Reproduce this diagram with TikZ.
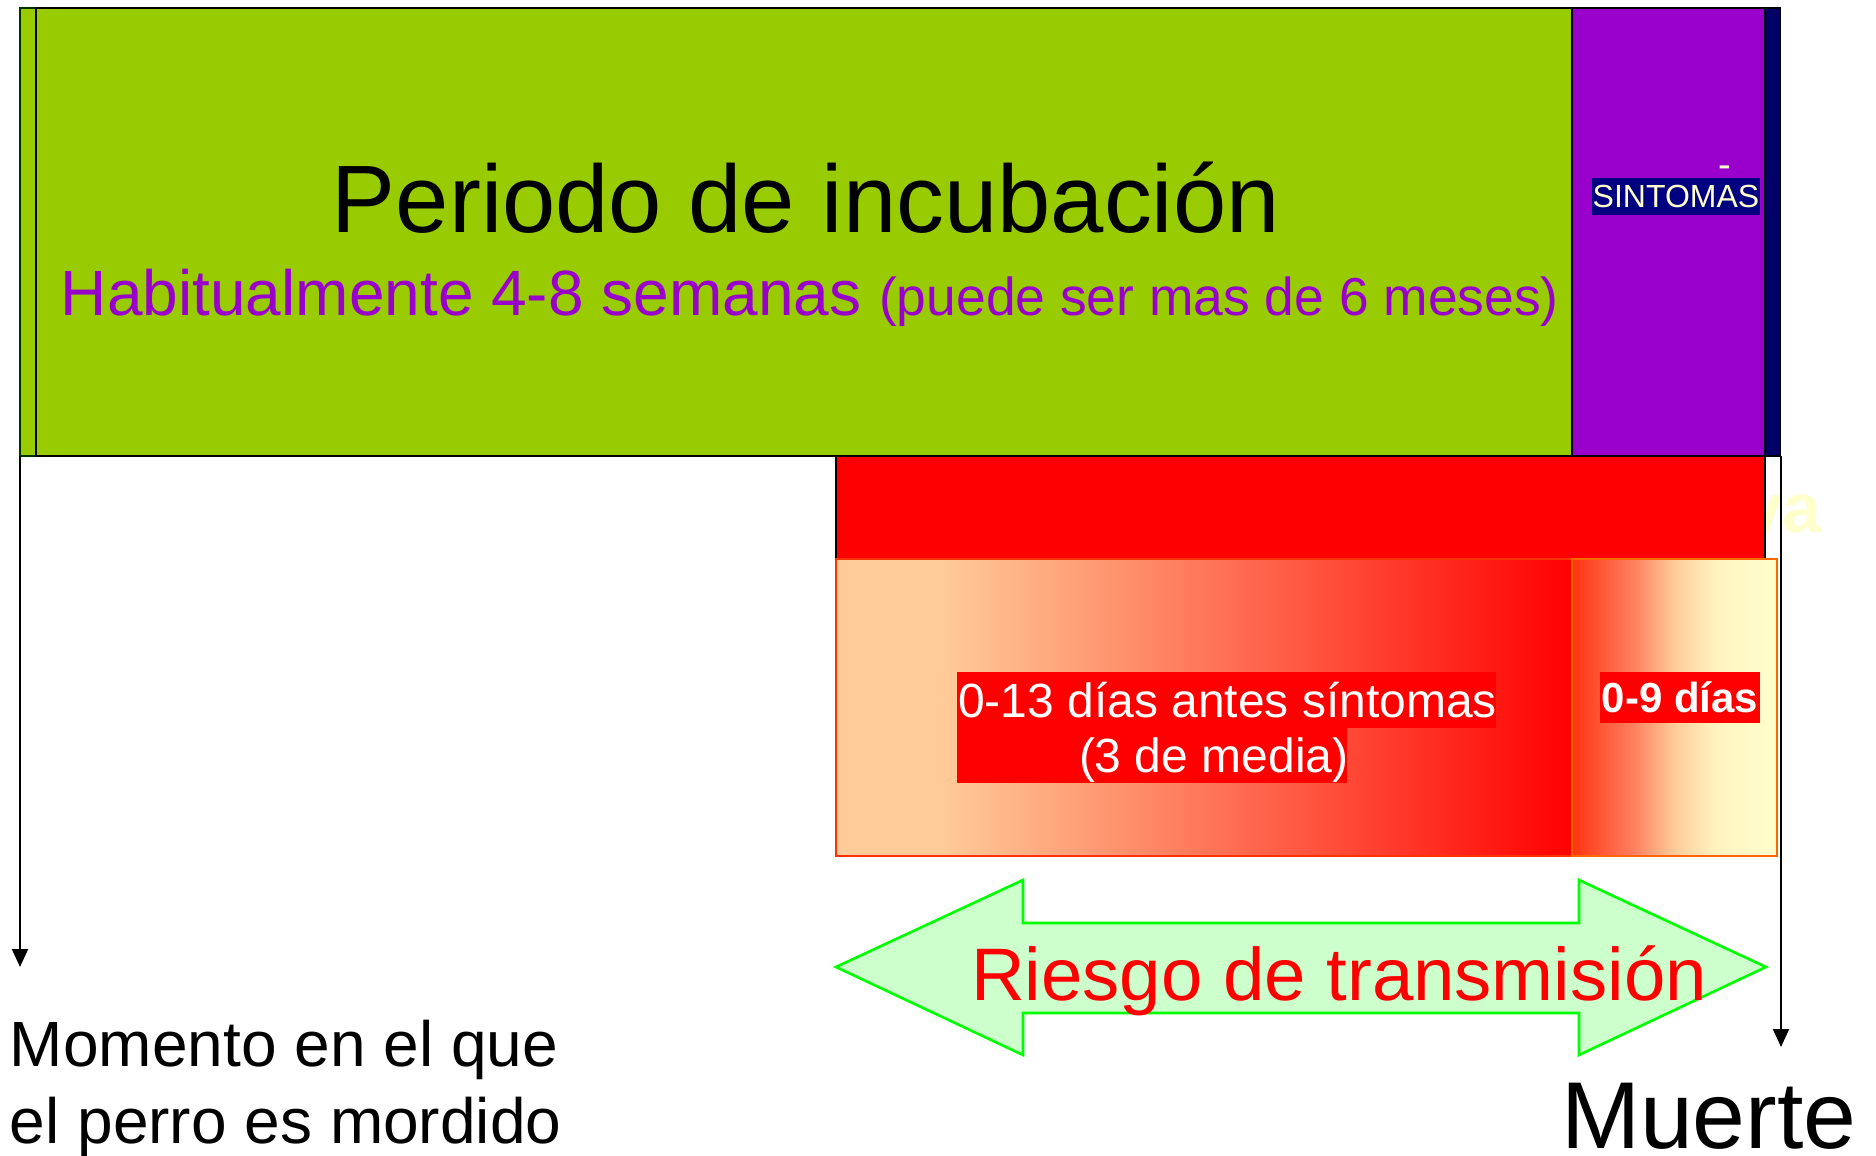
\documentclass[tikz,border=0pt]{standalone}
\usepackage{fontspec}
\setmainfont{Liberation Sans}
\usetikzlibrary{arrows.meta}
\definecolor{incgreen}{HTML}{99CC00}
\definecolor{darkgreen}{HTML}{003300}
\definecolor{sympurple}{HTML}{9900CC}
\definecolor{navystrip}{HTML}{000066}
\definecolor{navybox}{HTML}{000080}
\definecolor{paleyel}{HTML}{FFFFCC}
\definecolor{paleyel2}{HTML}{FFF3C0}
\definecolor{peach}{HTML}{FFCC99}
\definecolor{salmontwo}{HTML}{FF8060}
\definecolor{redorange}{HTML}{FF3311}
\definecolor{edgeone}{HTML}{FF3300}
\definecolor{edgetwo}{HTML}{FF6600}
\definecolor{arrowfill}{HTML}{CCFFCC}
\definecolor{arrowedge}{HTML}{00FF00}
\pgfdeclarehorizontalshading{gradone}{100bp}{color(0bp)=(peach); color(25bp)=(peach); color(32bp)=(peach); color(75bp)=(red); color(100bp)=(red)}
\pgfdeclarehorizontalshading{gradtwo}{100bp}{color(0bp)=(redorange); color(25bp)=(redorange); color(40bp)=(salmontwo); color(50bp)=(peach); color(60bp)=(paleyel2); color(75bp)=(paleyel); color(100bp)=(paleyel)}
\begin{document}
\begin{tikzpicture}[x=0.5pt,y=-0.5pt,
  box/.style={draw=black,line width=1pt},
  txt/.style={inner sep=0pt,outer sep=0pt},
  timeline/.style={line width=1pt,-{Triangle[length=9pt,width=8pt]}},
]
\useasboundingbox (0,0) rectangle (1876,1156);
% top bar
\fill[incgreen] (20,8) rectangle (1572,456);
\fill[sympurple] (1572,8) rectangle (1765,456);
\fill[navystrip] (1765,8) rectangle (1780,456);
\draw[darkgreen,line width=1pt] (20,8) rectangle (36,456);
\draw[box] (36,8) rectangle (1780,456);
\draw[box] (1572,8) -- (1572,456);
\draw[box] (1765,8) -- (1765,456);
\node[txt,anchor=base,font=\fontsize{47.9}{57}\selectfont] (title) at (806,233) {Periodo de incubación};
\node[txt,anchor=base west,text=sympurple] (usual) at (61,315) {{\fontsize{32}{38}\selectfont Habitualmente 4-8 semanas\ }{\fontsize{26.7}{31}\selectfont(puede ser mas de 6 meses)}};
\node[txt,fill=navybox,minimum width=84pt,minimum height=18.5pt,text=paleyel,font=\fontsize{16}{19}\selectfont] (sint) at (1676,196.5) {SINTOMAS};
\node[txt,anchor=base,text=paleyel,font=\fontsize{19}{22}\selectfont] (dash) at (1725,177) {-};
% hidden text behind red box
\node[txt,anchor=base east,text=paleyel,font=\bfseries\fontsize{35}{42}\selectfont] (hidden) at (1821,532) {va};
% red box
\draw[box,fill=red] (836,456) rectangle (1765,559);
% gradient boxes
\shadedraw[shading=gradone,draw=edgeone,line width=1pt] (836,559) rectangle (1572,856);
\shadedraw[shading=gradtwo,draw=edgetwo,line width=1pt] (1572,559) rectangle (1777,856);
\fill[red] (957,672) rectangle (1496,728);
\fill[red] (957,728) rectangle (1347,783);
\node[txt,anchor=base west,text=white,font=\fontsize{24}{29}\selectfont] (preone) at (958,717) {0-13 días antes síntomas};
\node[txt,anchor=base west,text=white,font=\fontsize{24}{29}\selectfont] (pretwo) at (1079,772) {(3 de media)};
\node[txt,fill=red,minimum width=80pt,minimum height=25.5pt,text=white,font=\bfseries\fontsize{21}{25}\selectfont] (post) at (1680,697.5) {0-9 días};
% timeline arrows
\coordinate (biteTop) at (20,456);
\coordinate (biteEnd) at (20,967);
\draw[timeline] (biteTop) -- (biteEnd);
\coordinate (deathTop) at (1781,456);
\coordinate (deathEnd) at (1781,1047);
\draw[timeline] (deathTop) -- (deathEnd);
% double arrow
\draw[fill=arrowfill,draw=arrowedge,line width=1.3pt] (836,967) -- (1023,880) -- (1023,923) -- (1579,923) -- (1579,880) -- (1766,967) -- (1579,1055) -- (1579,1013) -- (1023,1013) -- (1023,1055) -- cycle;
\node[txt,anchor=base west,text=red,font=\fontsize{37.2}{44}\selectfont] (risk) at (971,1000) {Riesgo de transmisión};
% labels
\node[txt,anchor=base west,font=\fontsize{32}{38}\selectfont] (biteone) at (10,1066) {Momento en el que};
\node[txt,anchor=base west,font=\fontsize{32}{38}\selectfont] (bitetwo) at (10,1143) {el perro es mordido};
\node[txt,anchor=base west,font=\fontsize{47.5}{56}\selectfont] (death) at (1561,1148) {Muerte};
\end{tikzpicture}
\end{document}
